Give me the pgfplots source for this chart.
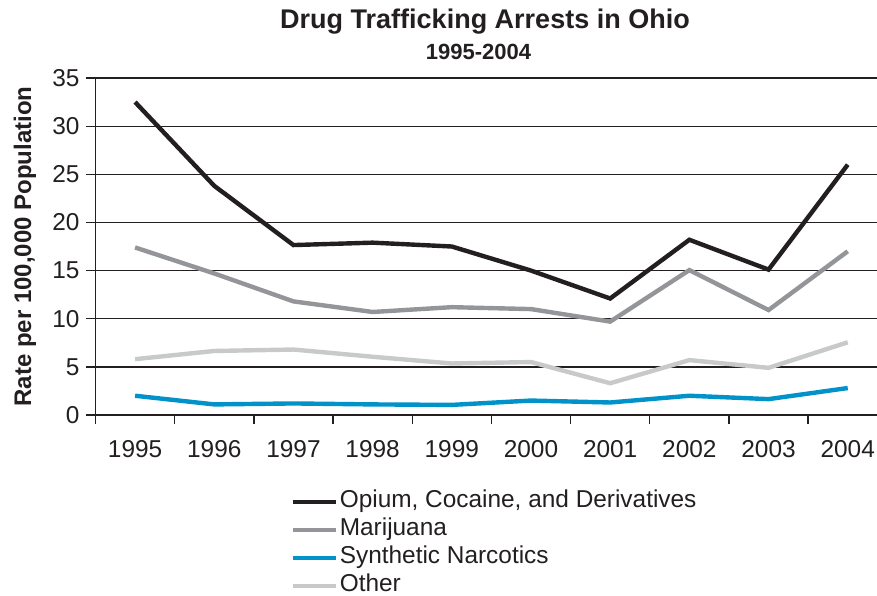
\documentclass[border=0pt]{standalone}
\usepackage{pgfplots}
\pgfplotsset{compat=1.18}
\usepackage{fontspec}
\setmainfont{Liberation Sans}
\definecolor{cOpium}{RGB}{35,31,32}
\definecolor{cMari}{RGB}{147,149,152}
\definecolor{cSynth}{RGB}{0,146,200}
\definecolor{cOther}{RGB}{200,201,203}
\definecolor{cGrid}{RGB}{35,31,32}
\begin{document}
\begin{tikzpicture}
\useasboundingbox (-47.75pt,-90pt) rectangle (390.75pt,207.5pt);
\begin{axis}[
  at={(0pt,0pt)}, anchor=south west,
  scale only axis, width=390.75pt, height=168.5pt,
  xmin=-0.5, xmax=9.37, ymin=0, ymax=35,
  axis x line*=bottom, axis y line*=left,
  axis line style={draw=cGrid, line width=0.65pt, -},
  ymajorgrids, grid style={draw=cGrid, line width=0.65pt},
  ytick={0,5,...,35},
  xtick={-0.5,0.5,...,8.5}, xticklabels={},
  extra x ticks={0,1,...,9},
  extra x tick labels={1995,1996,1997,1998,1999,2000,2001,2002,2003,2004},
  extra x tick style={major tick length=0pt, tick label style={yshift=-9pt}},
  tick align=outside, major tick length=4.5pt,
  tick style={draw=cGrid, line width=0.65pt},
  /pgf/number format/assume math mode=true,
  tick label style={font=\fontsize{12.2}{14}\selectfont, text=cOpium},
  ylabel={\textbf{Rate per 100,000 Population}},
  y label style={at={(axis description cs:-0.0902,0.5)}, anchor=center, font=\fontsize{12}{14}\selectfont, text=cOpium},
  legend style={at={(axis description cs:0.2489,-0.215)}, anchor=north west, draw=none, fill=none, inner sep=0pt,
    font=\fontsize{12.2}{14}\selectfont, text=cOpium, row sep=0pt,
    nodes={inner sep=1pt, text height=9pt, text depth=3pt}},
  legend cell align=left,
  legend image code/.code={\draw[#1] (-1.5pt,0pt) -- (20pt,0pt);},
  every axis plot/.append style={line width=2.2pt, mark=none, line join=miter},
]
\addplot[cOpium] coordinates {(0,32.5) (1,23.8) (2,17.65) (3,17.9) (4,17.5) (5,15.0) (6,12.1) (7,18.2) (8,15.1) (9,26.0)};
\addlegendentry{Opium, Cocaine, and Derivatives}
\addplot[cMari] coordinates {(0,17.4) (1,14.7) (2,11.8) (3,10.7) (4,11.2) (5,11.0) (6,9.7) (7,15.05) (8,10.9) (9,17.0)};
\addlegendentry{Marijuana}
\addplot[cSynth] coordinates {(0,2.0) (1,1.1) (2,1.2) (3,1.1) (4,1.05) (5,1.5) (6,1.3) (7,2.0) (8,1.65) (9,2.8)};
\addlegendentry{Synthetic Narcotics}
\addplot[cOther] coordinates {(0,5.8) (1,6.65) (2,6.8) (3,6.05) (4,5.35) (5,5.5) (6,3.3) (7,5.7) (8,4.9) (9,7.55)};
\addlegendentry{Other}
\end{axis}
\node[font=\fontsize{13.5}{15}\selectfont\bfseries, text=cOpium] at (194.75pt,196.5pt) {Drug Trafficking Arrests in Ohio};
\node[font=\fontsize{11}{13}\selectfont\bfseries, text=cOpium] at (191.5pt,181.5pt) {1995-2004};
\end{tikzpicture}
\end{document}
